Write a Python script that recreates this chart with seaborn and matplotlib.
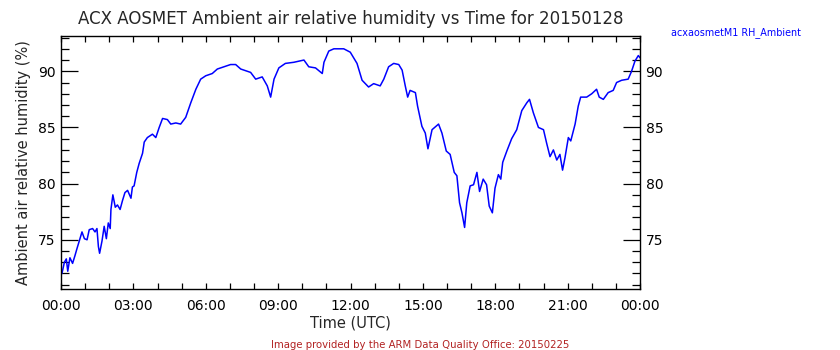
import matplotlib
matplotlib.use("Agg")
import matplotlib.pyplot as plt
import matplotlib.ticker as mticker
import numpy as np
import pandas as pd
import seaborn as sns

# Hours since 00:00 UTC and ambient relative humidity (%) for 2015-01-28
hours = [
    0.00, 0.04, 0.14, 0.22, 0.28, 0.37, 0.48, 0.58, 0.66, 0.76, 0.87, 0.97,
    1.08, 1.17, 1.31, 1.41, 1.49, 1.55, 1.60, 1.70, 1.79, 1.88, 1.96, 2.04,
    2.07, 2.15, 2.25, 2.34, 2.45, 2.55, 2.65, 2.76, 2.90, 2.96, 3.03, 3.14,
    3.24, 3.38, 3.45, 3.58, 3.79, 3.93, 4.07, 4.21, 4.41, 4.55, 4.76, 4.96,
    5.17, 5.38, 5.59, 5.79, 6.00, 6.27, 6.48, 6.76, 7.03, 7.24, 7.45, 7.86,
    8.07, 8.34, 8.55, 8.69, 8.83, 9.03, 9.30, 9.65, 10.07, 10.27, 10.55, 10.83,
    10.90, 11.10, 11.31, 11.58, 11.72, 11.99, 12.27, 12.48, 12.75, 12.96, 13.23, 13.38,
    13.58, 13.79, 14.00, 14.14, 14.27, 14.37, 14.47, 14.69, 14.78, 14.96, 15.10, 15.21,
    15.38, 15.65, 15.79, 15.97, 16.13, 16.30, 16.41, 16.52, 16.62, 16.73, 16.82, 16.96,
    17.10, 17.24, 17.35, 17.50, 17.64, 17.75, 17.88, 17.99, 18.13, 18.23, 18.31, 18.48,
    18.68, 18.89, 19.10, 19.31, 19.42, 19.58, 19.79, 20.00, 20.13, 20.27, 20.41, 20.55,
    20.68, 20.79, 20.89, 21.03, 21.13, 21.31, 21.44, 21.54, 21.79, 22.00, 22.20, 22.31,
    22.48, 22.68, 22.89, 23.03, 23.24, 23.51, 23.65, 23.79, 23.93, 24.00,
]
rh_ambient = [
    72.3, 72.0, 73.0, 73.3, 72.2, 73.4, 72.9, 73.6, 74.2, 74.9, 75.7, 75.1,
    75.0, 75.9, 76.0, 75.7, 76.0, 74.4, 73.8, 74.9, 76.2, 75.1, 76.5, 76.0,
    77.7, 79.0, 77.9, 78.1, 77.7, 78.5, 79.2, 79.4, 78.7, 79.7, 79.8, 81.0,
    81.8, 82.7, 83.7, 84.1, 84.4, 84.1, 85.0, 85.8, 85.7, 85.3, 85.4, 85.3,
    85.9, 87.2, 88.4, 89.3, 89.6, 89.8, 90.2, 90.4, 90.6, 90.6, 90.2, 89.9,
    89.3, 89.5, 88.7, 87.7, 89.3, 90.3, 90.7, 90.8, 91.0, 90.4, 90.3, 89.8,
    90.8, 91.8, 92.0, 92.0, 92.0, 91.7, 90.7, 89.2, 88.6, 88.9, 88.7, 89.3,
    90.4, 90.7, 90.6, 90.1, 88.7, 87.7, 88.3, 88.1, 86.9, 85.1, 84.5, 83.1,
    84.8, 85.3, 84.5, 82.9, 82.6, 81.0, 80.7, 78.3, 77.4, 76.1, 78.3, 79.8,
    79.9, 81.0, 79.3, 80.4, 79.9, 78.0, 77.4, 79.6, 80.8, 80.4, 81.9, 82.9,
    84.0, 84.8, 86.5, 87.2, 87.5, 86.3, 85.0, 84.8, 83.6, 82.4, 83.0, 82.1,
    82.6, 81.2, 82.3, 84.1, 83.8, 85.3, 86.9, 87.7, 87.7, 88.0, 88.4, 87.7,
    87.5, 88.1, 88.3, 89.0, 89.2, 89.3, 90.0, 90.9, 91.4, 91.2,
]
x_tick_hours = [0, 3, 6, 9, 12, 15, 18, 21, 24]
x_tick_labels = ["00:00", "03:00", "06:00", "09:00", "12:00",
                 "15:00", "18:00", "21:00", "00:00"]
y_ticks = [75, 80, 85, 90]

df = pd.DataFrame({"hour": hours, "rh": rh_ambient})

sns.set_style("ticks")
plt.rcParams["font.family"] = ["DejaVu Sans"]

fig = plt.figure(figsize=(8.4, 3.5), dpi=100)
ax = fig.add_axes([61 / 840, 1 - 289 / 350, 579 / 840, 253 / 350])

sns.lineplot(data=df, x="hour", y="rh", ax=ax, color="#0000ff",
             linewidth=1.1, estimator=None, sort=False)

ax.set_xlim(0, 24)
ax.set_ylim(70.62, 93.14)

ax.set_xticks(x_tick_hours)
ax.set_xticklabels(x_tick_labels)
ax.xaxis.set_minor_locator(mticker.MultipleLocator(1))
ax.set_yticks(y_ticks)
ax.yaxis.set_minor_locator(mticker.MultipleLocator(1))

ax.tick_params(axis="both", which="both", direction="in", colors="black",
               labelsize=10, top=True, right=True, labelright=True)
ax.tick_params(axis="x", which="major", length=4, width=0.9, pad=7)
ax.tick_params(axis="x", which="minor", length=4, width=0.9)
ax.tick_params(axis="y", which="major", length=12, width=0.9, pad=4)
ax.tick_params(axis="y", which="minor", length=6, width=0.9)

for spine in ax.spines.values():
    spine.set_visible(True)
    spine.set_color("black")
    spine.set_linewidth(1.0)

ax.set_xlabel("Time (UTC)", fontsize=10.5, labelpad=2)
ax.set_ylabel("Ambient air relative humidity (%)", fontsize=10.5, labelpad=5)
ax.set_title("ACX AOSMET Ambient air relative humidity vs Time for 20150128",
             fontsize=12, pad=9)

fig.text(671 / 840, 1 - 33 / 350, "acxaosmetM1 RH_Ambient",
         color="#0000ff", fontsize=6.9, ha="left", va="center")
fig.text(420 / 840, 1 - 345 / 350,
         "Image provided by the ARM Data Quality Office: 20150225",
         color="#b22222", fontsize=7.3, ha="center", va="center")

fig.savefig("out.png", dpi=100, facecolor="white")
